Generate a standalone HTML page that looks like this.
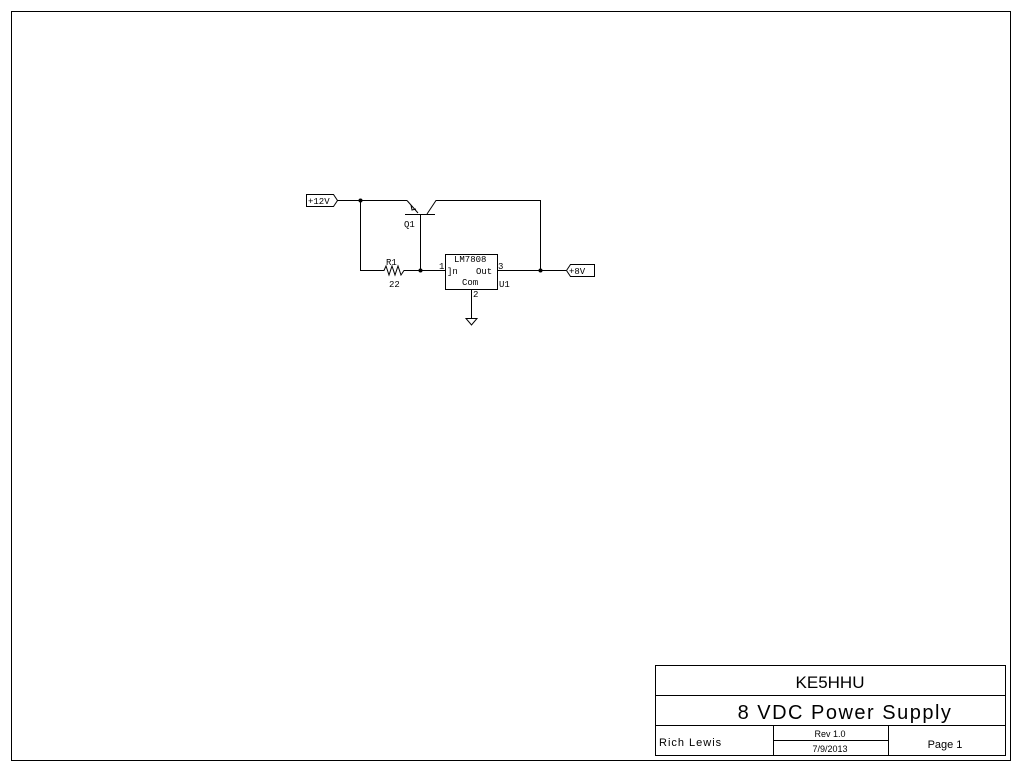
<!DOCTYPE html>
<html><head><style>body{margin:0;background:#fff}svg{display:block}</style></head><body>
<svg width="1020" height="770" xmlns="http://www.w3.org/2000/svg" font-family="Liberation Mono, monospace" fill="none" stroke="#000" stroke-width="1">
<rect x="11.5" y="11.5" width="999" height="749"/>
<!-- title block -->
<rect x="655.5" y="665.5" width="350" height="90"/>
<line x1="655" y1="695.5" x2="1005" y2="695.5"/>
<line x1="655" y1="725.5" x2="1005" y2="725.5"/>
<line x1="773.5" y1="725" x2="773.5" y2="755"/>
<line x1="888.5" y1="725" x2="888.5" y2="755"/>
<line x1="773" y1="740.5" x2="888" y2="740.5"/>
<g fill="#000" stroke="none" font-family="Liberation Sans, sans-serif">
<text x="830" y="688" font-size="17" text-anchor="middle">KE5HHU</text>
<text x="845" y="719" font-size="20" text-anchor="middle" letter-spacing="1.5">8 VDC Power Supply</text>
<text x="659" y="746" font-size="11" letter-spacing="1">Rich Lewis</text>
<text x="830" y="737" font-size="9" text-anchor="middle">Rev 1.0</text>
<text x="830" y="752" font-size="9" text-anchor="middle">7/9/2013</text>
<text x="945" y="748" font-size="11" text-anchor="middle">Page 1</text>
</g>
<!-- circuit -->
<path d="M306.5 194.5H333.5L337.5 200.5L333.5 206.5H306.5Z"/>
<path d="M337 200.5H407"/>
<path d="M407 200.5L418 213"/>
<path d="M411 205L412 210L416 209"/>
<path d="M405 214.5H435"/>
<path d="M427 214L436 200.5H540.5V270"/>
<path d="M420.5 214V270"/>
<path d="M360.5 200V270.5H384L386 266L389 275L392 266L395 275L398 266L401 275L404 270.5H445"/>
<rect x="445.5" y="254.5" width="52" height="35"/>
<path d="M497 270.5H566"/>
<path d="M566.5 270.5L570.5 264.5H594.5V276.5H570.5Z"/>
<path d="M471.5 289V318"/>
<path d="M466 318.5H477L471.5 325Z"/>
<g fill="#000" stroke="none">
<circle cx="360.5" cy="200.5" r="2"/>
<circle cx="420.5" cy="270.5" r="2"/>
<circle cx="540.5" cy="270.5" r="2"/>
</g>
<g fill="#000" stroke="none" font-size="9">
<text x="308" y="204">+12V</text>
<text x="569" y="274">+8V</text>
<text x="404" y="227">Q1</text>
<text x="386" y="265">R1</text>
<text x="389" y="287">22</text>
<text x="454" y="262">LM7808</text>
<text x="447" y="274">]n</text>
<text x="476" y="274">Out</text>
<text x="462" y="285">Com</text>
<text x="439" y="269">1</text>
<text x="498" y="269">3</text>
<text x="473" y="297">2</text>
<text x="499" y="287">U1</text>
</g>
</svg>
</body></html>
